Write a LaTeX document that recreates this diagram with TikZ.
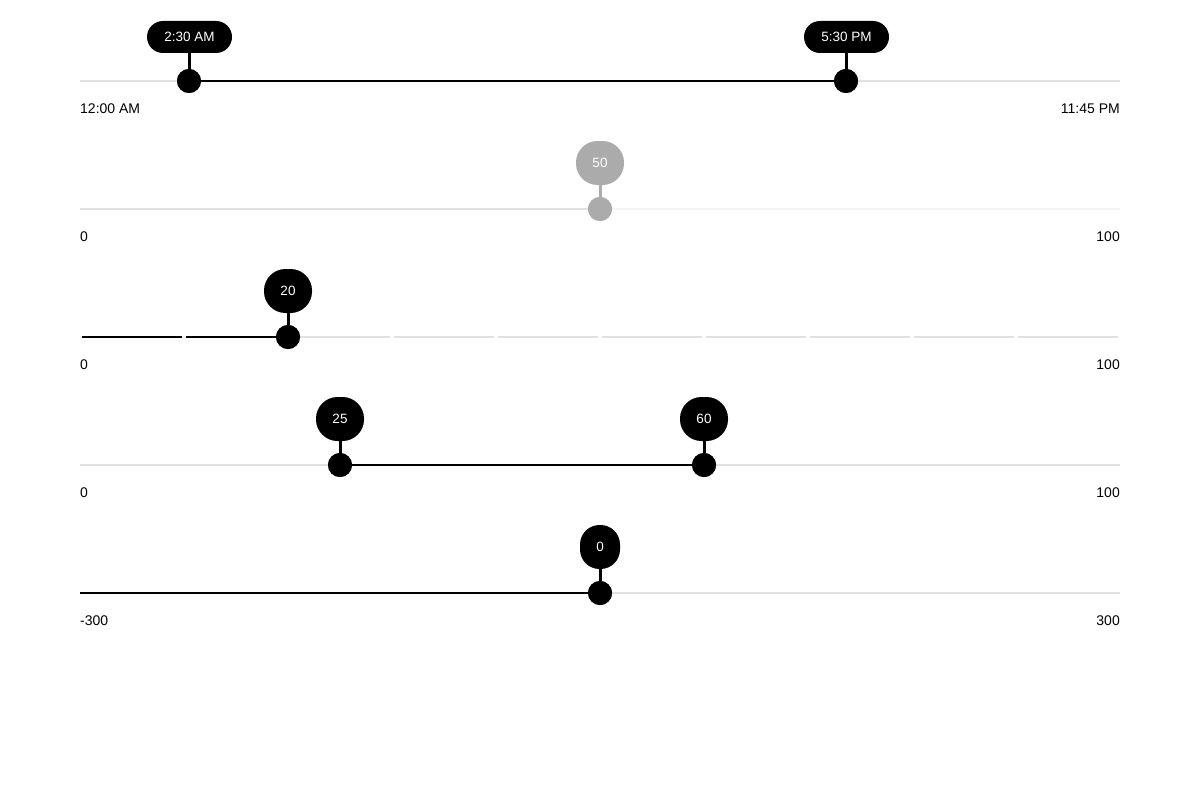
\documentclass[tikz,border=0pt]{standalone}
\usepackage{fontspec}
\setmainfont{Liberation Sans}
\definecolor{trackgray}{HTML}{E0E0E0}
\definecolor{tracklight}{HTML}{F3F3F3}
\definecolor{disgray}{HTML}{ABABAB}
\begin{document}
\begin{tikzpicture}[x=1pt,y=-1pt,
  track/.style={draw=trackgray,line width=2pt},
  fill track/.style={draw=black,line width=2pt},
  thumb/.style={circle,fill=black,minimum size=24pt,inner sep=0pt},
  stem/.style={draw=black,line width=3pt},
  bubble/.style={fill=black,text=white,rounded corners=16pt,minimum height=32pt,minimum width=85pt,inner sep=0pt,font=\fontsize{13.5}{15}\selectfont},
  rbubble/.style={fill=black,text=white,rounded corners=21.5pt,minimum height=44pt,minimum width=48pt,inner sep=0pt,font=\fontsize{13.5}{15}\selectfont},
  endlabel/.style={inner sep=0pt,font=\fontsize{14}{16}\selectfont}
]
\useasboundingbox (0,0) rectangle (1200,800);
% ---- slider 1: time range
\coordinate (a0) at (80,81); \coordinate (a1) at (1120,81);
\draw[track] (a0) -- (a1);
\node[thumb] (ta) at (189,81) {};
\node[thumb] (tb) at (846,81) {};
\draw[fill track] (ta.center) -- (tb.center);
\node[bubble] (ba) at (189.5,37) {\raisebox{-0.8pt}{2:30 AM}};
\node[bubble] (bb) at (846.5,37) {\raisebox{-0.8pt}{5:30 PM}};
\draw[stem] (ba.south -| ta) -- (ta.center);
\draw[stem] (bb.south -| tb) -- (tb.center);
\node[thumb] at (ta) {};
\node[thumb] at (tb) {};
\node[endlabel,anchor=west] (la) at (80,109) {12:00 AM};
\node[endlabel,anchor=east] (ra) at (1120,109) {11:45 PM};
% ---- slider 2: disabled
\coordinate (b0) at (80,209); \coordinate (b1) at (1120,209);
\node[thumb,fill=disgray] (tc) at (600,209) {};
\draw[draw=tracklight,line width=2pt] (tc.center) -- (b1);
\draw[track] (b0) -- (tc.center);
\node[rbubble,fill=disgray] (bc) at (600,163) {\raisebox{-0.8pt}{50}};
\draw[stem,draw=disgray] (bc.south) -- (tc.center);
\node[thumb,fill=disgray] at (tc) {};
\node[endlabel,anchor=west] (lb) at (80,237) {0};
\node[endlabel,anchor=east] (rb) at (1120,237) {100};
% ---- slider 3: stepped
\foreach \i in {0,...,9}{
  \pgfmathsetmacro{\xs}{82+104*\i}
  \pgfmathsetmacro{\xe}{182+104*\i}
  \ifnum\i<2
    \draw[fill track] (\xs,337) -- (\xe,337);
  \else
    \draw[track] (\xs,337) -- (\xe,337);
  \fi
}
\node[thumb] (td) at (288,337) {};
\node[rbubble] (bd) at (288,291) {\raisebox{-0.8pt}{20}};
\draw[stem] (bd.south) -- (td.center);
\node[thumb] at (td) {};
\node[endlabel,anchor=west] (lc) at (80,365) {0};
\node[endlabel,anchor=east] (rc) at (1120,365) {100};
% ---- slider 4: range
\coordinate (c0) at (80,465); \coordinate (c1) at (1120,465);
\draw[track] (c0) -- (c1);
\node[thumb] (te) at (340,465) {};
\node[thumb] (tf) at (704,465) {};
\draw[fill track] (te.center) -- (tf.center);
\node[rbubble] (be) at (340,419) {\raisebox{-0.8pt}{25}};
\node[rbubble] (bf) at (704,419) {\raisebox{-0.8pt}{60}};
\draw[stem] (be.south) -- (te.center);
\draw[stem] (bf.south) -- (tf.center);
\node[thumb] at (te) {};
\node[thumb] at (tf) {};
\node[endlabel,anchor=west] (ld) at (80,493) {0};
\node[endlabel,anchor=east] (rd) at (1120,493) {100};
% ---- slider 5: centered
\coordinate (d0) at (80,593); \coordinate (d1) at (1120,593);
\draw[track] (d0) -- (d1);
\node[thumb] (tg) at (600,593) {};
\draw[fill track] (d0) -- (tg.center);
\node[rbubble,minimum width=40pt,rounded corners=19.5pt] (bg) at (600,547) {\raisebox{-0.8pt}{0}};
\draw[stem] (bg.south) -- (tg.center);
\node[thumb] at (tg) {};
\node[endlabel,anchor=west] (le) at (80,621) {-300};
\node[endlabel,anchor=east] (re) at (1120,621) {300};
\end{tikzpicture}
\end{document}
